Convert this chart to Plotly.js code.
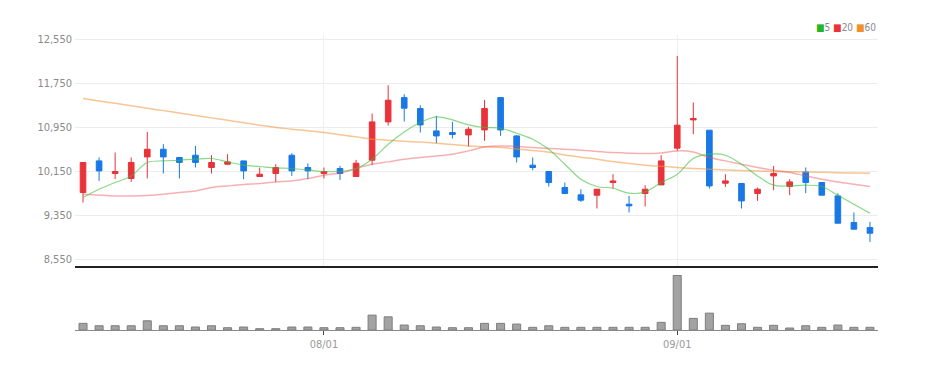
<!DOCTYPE html>
<html>
<head>
<meta charset="utf-8">
<script src="https://cdn.plot.ly/plotly-3.0.1.min.js"></script>
<style>html,body{margin:0;padding:0;background:#fff;}#chart{width:928px;height:370px;}</style>
</head>
<body>
<div id="chart"></div>
<script>
const dates = [
 "2023-07-11","2023-07-12","2023-07-13","2023-07-14","2023-07-17","2023-07-18","2023-07-19","2023-07-20","2023-07-21",
 "2023-07-24","2023-07-25","2023-07-26","2023-07-27","2023-07-28","2023-07-31",
 "2023-08-01","2023-08-02","2023-08-03","2023-08-04","2023-08-07","2023-08-08","2023-08-09","2023-08-10","2023-08-11",
 "2023-08-14","2023-08-16","2023-08-17","2023-08-18","2023-08-21","2023-08-22","2023-08-23","2023-08-24","2023-08-25",
 "2023-08-28","2023-08-29","2023-08-30","2023-08-31",
 "2023-09-01","2023-09-04","2023-09-05","2023-09-06","2023-09-07","2023-09-08","2023-09-11","2023-09-12","2023-09-13",
 "2023-09-14","2023-09-15","2023-09-18","2023-09-19"
];
const openP  = [9768,10343,10114,10023,10415,10555,10405,10446,10223,10283,10343,10059,10114,10446,10223,10114,10205,10059,10355,11052,
                11494,11295,10888,10859,10815,10906,11494,10797,10265,10150,9859,9725,9719,9950,9555,9750,9906,10574,11088,10901,
                9937,9932,9750,10070,9877,10143,9950,9706,9223,9132];
const highP  = [10320,10405,10495,10405,10870,10646,10405,10615,10446,10465,10343,10223,10283,10483,10295,10223,10252,10361,11204,11719,
                11555,11355,11161,11052,10961,11452,11494,10810,10405,10150,9950,9828,9828,10101,9706,9901,10446,12252,11405,10901,
                10101,9932,9859,10252,10010,10223,9950,9755,9405,9234];
const lowP   = [9586,9979,10010,9961,10023,10114,10023,10223,10114,10265,10010,10059,9961,10070,10010,10023,9997,10059,10265,10986,
                11059,10859,10664,10750,10604,10706,10797,10314,10174,9877,9750,9597,9477,9841,9405,9514,9906,10525,10828,9841,
                9870,9477,9615,9810,9719,9755,9719,9210,9101,8870];
const closeP = [10314,10161,10150,10314,10555,10415,10314,10314,10314,10325,10161,10101,10223,10161,10161,10150,10114,10301,11052,11446,
                11301,10997,10797,10823,10919,11295,10906,10415,10223,9950,9750,9628,9828,9979,9525,9828,10343,10992,11114,9888,
                9979,9615,9828,10114,9961,9950,9719,9210,9101,9028];
const volume = [335000,215000,215000,215000,465000,215000,215000,150000,215000,115000,150000,65000,65000,150000,150000,115000,115000,
                135000,750000,665000,250000,215000,150000,115000,115000,335000,335000,300000,135000,215000,135000,135000,135000,
                135000,135000,135000,385000,2750000,585000,850000,235000,315000,135000,235000,100000,215000,135000,250000,135000,135000];
const ma5  = [9677,9828,9950,10070,10314,10343,10355,10374,10386,10325,10265,10241,10215,10205,10179,10150,10150,10205,10374,10646,
              10870,11041,11143,11088,10997,10950,10937,10846,10737,10555,10283,10010,9877,9846,9755,9779,9950,10101,10386,10465,
              10446,10283,10070,9901,9888,9901,9877,9719,9555,9392];
const ma20 = [9737,9719,9706,9706,9715,9737,9768,9797,9859,9888,9914,9932,9961,9979,10023,10083,10119,10205,10283,10325,
              10374,10405,10434,10465,10525,10597,10615,10604,10586,10568,10555,10537,10514,10495,10483,10477,10488,10525,10506,10405,
              10343,10283,10223,10174,10132,10070,10010,9961,9919,9877];
const ma60 = [11477,11433,11389,11345,11301,11257,11213,11169,11125,11081,11037,10993,10950,10920,10890,10859,10820,10780,10737,10720,
              10700,10685,10664,10640,10615,10600,10586,10560,10530,10500,10450,10410,10374,10330,10295,10265,10245,10223,10205,10190,
              10179,10170,10160,10150,10145,10143,10135,10128,10122,10119];
const priceTicks = [8550,9350,10150,10950,11750,12550];
const xTickVals = ["2023-08-01","2023-09-01"];
const xTickText = ["08/01","09/01"];
const maNames = ["5","20","60"];

const tickFont = {family:"Liberation Sans Narrow, DejaVu Sans Condensed, Arial Narrow, sans-serif", size:11, color:"#8a8a8a"};

const traces = [
  {type:"candlestick", x:dates, open:openP, high:highP, low:lowP, close:closeP, xaxis:"x", yaxis:"y",
   increasing:{line:{color:"#e8333a", width:1}, fillcolor:"#e8333a"},
   decreasing:{line:{color:"#1a78e6", width:1}, fillcolor:"#1a78e6"},
   whiskerwidth:0, showlegend:false, hoverinfo:"skip"},
  {type:"scatter", mode:"lines", x:dates, y:ma60, name:maNames[2], line:{color:"rgba(243,150,60,0.55)", width:1.5, shape:"spline"}, showlegend:false, hoverinfo:"skip"},
  {type:"scatter", mode:"lines", x:dates, y:ma20, name:maNames[1], line:{color:"rgba(236,80,85,0.45)", width:1.5, shape:"spline"}, showlegend:false, hoverinfo:"skip"},
  {type:"scatter", mode:"lines", x:dates, y:ma5, name:maNames[0], line:{color:"rgba(60,190,60,0.6)", width:1.2, shape:"spline"}, showlegend:false, hoverinfo:"skip"},
  {type:"bar", x:dates, y:volume, xaxis:"x2", yaxis:"y2", width:0.5,
   marker:{color:"#a3a3a3", line:{color:"#7d7d7d", width:1}}, showlegend:false, hoverinfo:"skip"}
];

const layout = {
  width:928, height:370,
  margin:{l:75, r:50, t:35, b:40},
  paper_bgcolor:"#fff", plot_bgcolor:"#fff",
  boxgap:0.5,
  bargap:0.5,
  showlegend:false,
  xaxis:{type:"category", range:[-0.5,49.5], anchor:"y", rangeslider:{visible:false},
         tickvals:xTickVals, ticktext:xTickText, showticklabels:false, ticks:"",
         showgrid:true, gridcolor:"#eeeeee", gridwidth:1, zeroline:false,
         showline:true, linecolor:"#222", linewidth:2, fixedrange:true},
  yaxis:{domain:[0.217,1], range:[8432,12632], tickvals:priceTicks, tickformat:",d",
         showgrid:true, gridcolor:"#ececec", gridwidth:1, zeroline:false, showline:false,
         ticks:"", tickfont:tickFont, ticklabelstandoff:2, fixedrange:true},
  xaxis2:{type:"category", range:[-0.5,49.5], anchor:"y2", matches:"x",
          tickvals:xTickVals, ticktext:xTickText, ticks:"outside", ticklen:4, tickcolor:"#444", tickwidth:1,
          showgrid:false, zeroline:false, showline:true, linecolor:"#8a8a8a", linewidth:1,
          tickfont:{family:tickFont.family, size:11, color:"#9a9a9a"}, fixedrange:true},
  yaxis2:{domain:[0,0.207], range:[0,3080000], showgrid:false, zeroline:false, showline:false,
          showticklabels:false, ticks:"", fixedrange:true},
  annotations:[{
    xref:"paper", yref:"paper", x:1, y:1.027, xanchor:"right", yanchor:"middle", showarrow:false,
    text:'<span style="color:#27b527">■</span>' + maNames[0] + ' <span style="color:#e8333a">■</span>' + maNames[1] +
         ' <span style="color:#f0902a">■</span>' + maNames[2],
    font:{family:tickFont.family, size:10, color:"#8a8a8a"}
  }]
};

Plotly.newPlot("chart", traces, layout, {staticPlot:true, displayModeBar:false});
</script>
</body>
</html>
